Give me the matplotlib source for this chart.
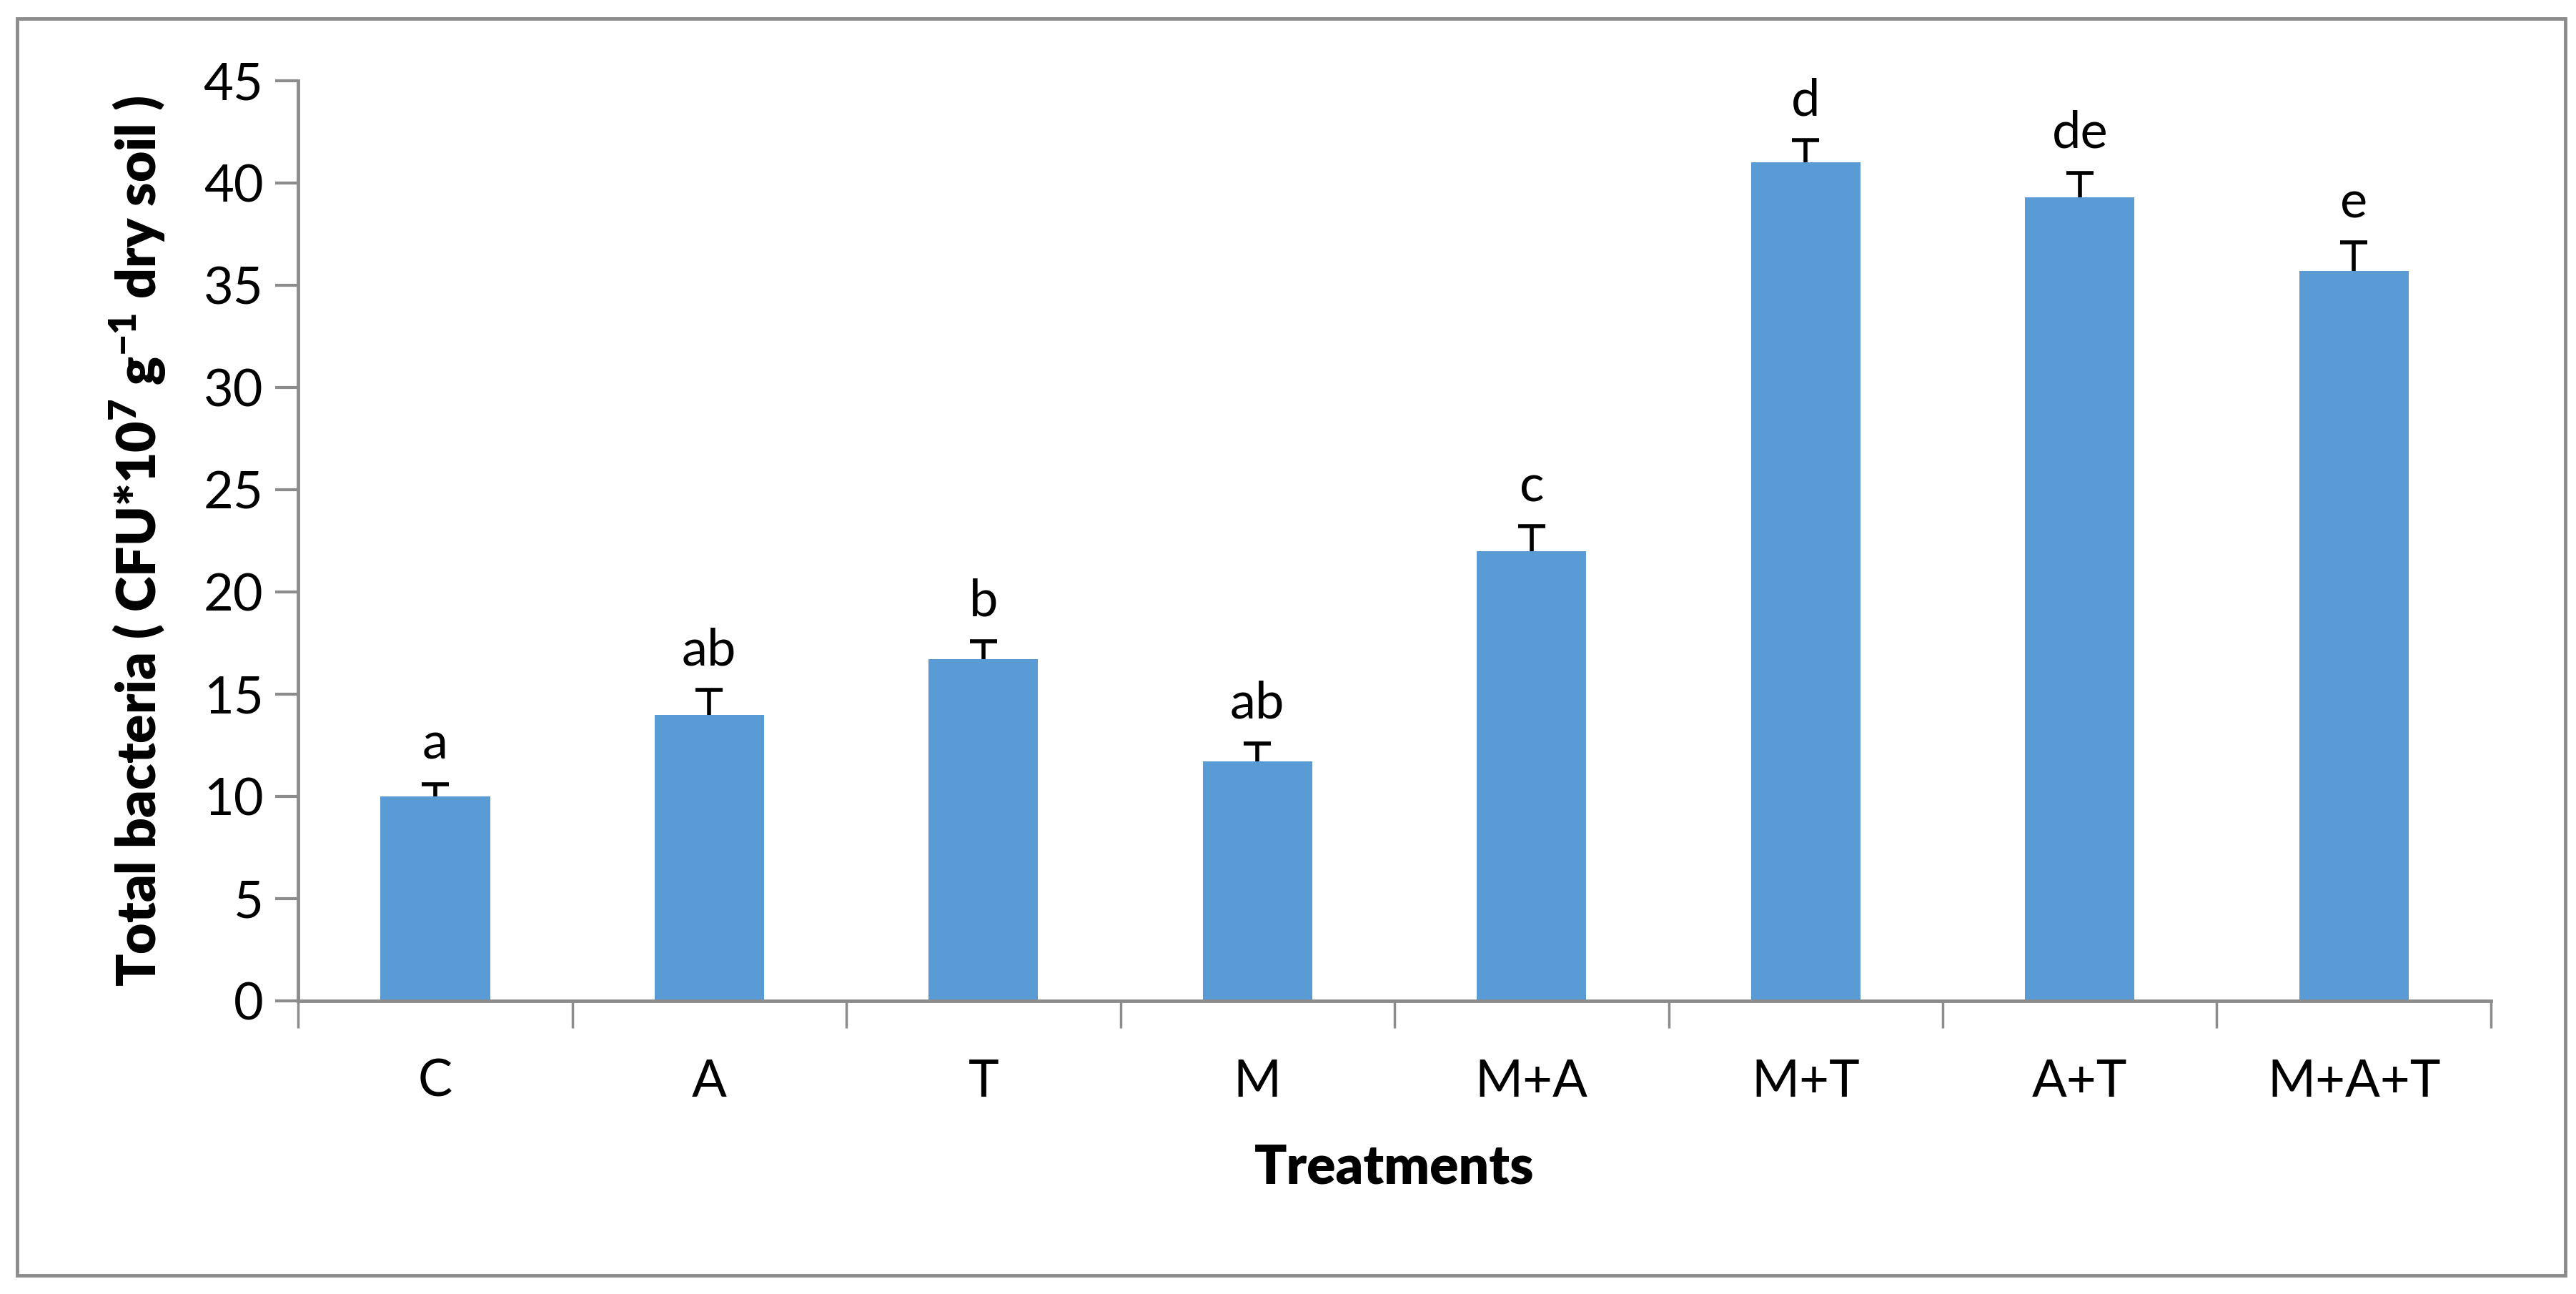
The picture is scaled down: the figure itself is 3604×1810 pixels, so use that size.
import matplotlib
matplotlib.use("Agg")
import matplotlib.pyplot as plt
from matplotlib.patches import Rectangle
import numpy as np

plt.rcParams["font.family"] = ["Lato", "DejaVu Sans"]
plt.rcParams["mathtext.default"] = "regular"

# Data
treatments = ["C", "A", "T", "M", "M+A", "M+T", "A+T", "M+A+T"]
total_bacteria = [10.0, 14.0, 16.7, 11.7, 22.0, 41.0, 39.3, 35.7]
std_err = [0.6, 1.2, 0.9, 0.9, 1.2, 1.1, 1.2, 1.4]
letters = ["a", "ab", "b", "ab", "c", "d", "de", "e"]

bar_color = "#5B9BD5"
axis_gray = "#8C8C8C"

fig = plt.figure(figsize=(36.05, 18.10), dpi=100)
ax = fig.add_axes([0.1157, 0.2265, 0.8510, 0.7111])

x = np.arange(len(treatments))
ax.bar(x, total_bacteria, width=0.40, color=bar_color, zorder=2)
_, caps, _ = ax.errorbar(
    x,
    total_bacteria,
    yerr=[np.zeros(len(x)), std_err],
    fmt="none",
    ecolor="black",
    elinewidth=4,
    capsize=14,
    capthick=4,
    zorder=3,
)
# only the upper half of the error bar is shown
caps[0].set_visible(False)

# Significance letters above the error bars
for xi, val, err, lab in zip(x, total_bacteria, std_err, letters):
    ax.text(xi, val + err + 0.8, lab, ha="center", va="bottom", fontsize=52)

ax.set_xlim(-0.5, len(treatments) - 0.5)
ax.set_ylim(0, 45)
ax.set_yticks(np.arange(0, 46, 5))

# category labels centred, ticks on the category boundaries
ax.set_xticks(x)
ax.set_xticklabels(treatments, fontsize=52)
ax.set_xticks(np.arange(-0.5, len(treatments), 1), minor=True)
ax.tick_params(axis="x", which="major", length=0, pad=58)
ax.tick_params(axis="x", which="minor", length=27, width=2.5, color=axis_gray)
ax.tick_params(axis="y", length=23, width=3, color=axis_gray, labelsize=52, pad=12)

for side in ["top", "right"]:
    ax.spines[side].set_visible(False)
for side in ["left", "bottom"]:
    ax.spines[side].set_color(axis_gray)
    ax.spines[side].set_linewidth(3.5)

ax.set_ylabel(
    "Total bacteria ( CFU*10$^{7}$ g$^{-1}$ dry soil )",
    fontsize=54,
    fontweight="heavy",
    labelpad=36,
)
ax.set_xlabel("Treatments", fontsize=54, fontweight="heavy", labelpad=38)

# Outer chart border
fig.patches.append(
    Rectangle(
        (0.0066, 0.0146),
        0.9890,
        0.9710,
        transform=fig.transFigure,
        fill=False,
        edgecolor=axis_gray,
        linewidth=3.5,
    )
)

fig.savefig("out.png", dpi=100)
